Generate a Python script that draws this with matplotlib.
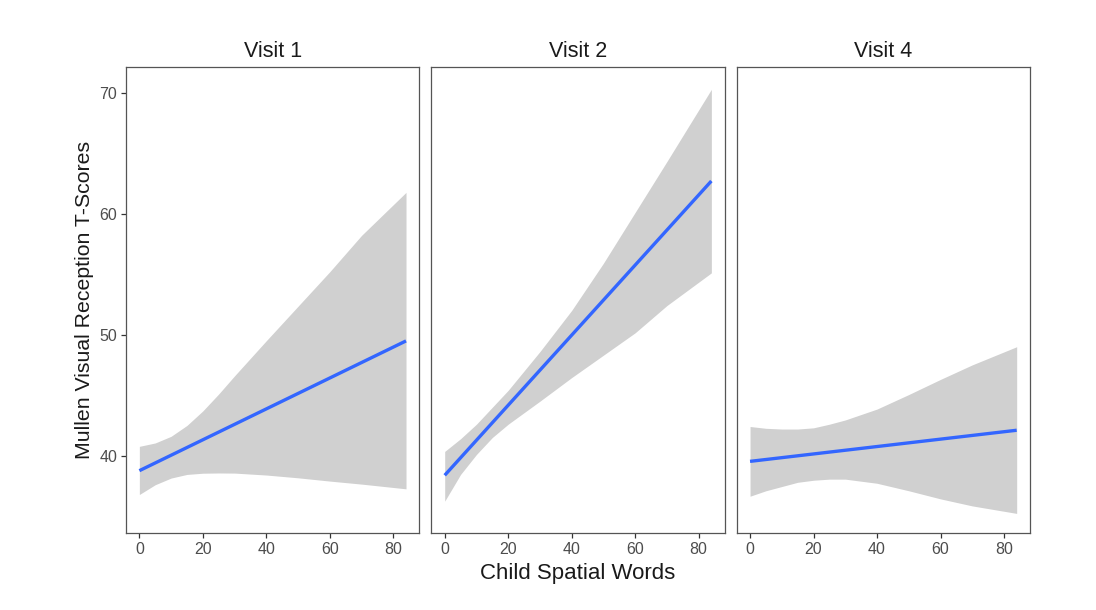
import numpy as np
import matplotlib
matplotlib.use('Agg')
import matplotlib.pyplot as plt

plt.rcParams['font.family'] = ['Liberation Sans', 'DejaVu Sans']

visits = ['Visit 1', 'Visit 2', 'Visit 4']
x_pts = [0, 5, 10, 15, 20, 25, 30, 40, 50, 60, 70, 84]

# fitted line end points (x=0, x=84)
fit_x = [0, 84]
fit_y = {
    'Visit 1': [38.76, 49.48],
    'Visit 2': [38.38, 62.69],
    'Visit 4': [39.53, 42.10],
}
# confidence band at x_pts
upper = {
    'Visit 1': [40.77, 41.05, 41.6, 42.5, 43.7, 45.1, 46.6, 49.5, 52.35, 55.2, 58.2, 61.75],
    'Visit 2': [40.35, 41.4, 42.6, 44.0, 45.4, 47.0, 48.6, 52.0, 55.9, 60.1, 64.3, 70.26],
    'Visit 4': [42.41, 42.26, 42.2, 42.2, 42.3, 42.6, 42.95, 43.85, 45.05, 46.3, 47.5, 49.0],
}
lower = {
    'Visit 1': [36.79, 37.6, 38.15, 38.45, 38.55, 38.57, 38.56, 38.4, 38.17, 37.9, 37.65, 37.26],
    'Visit 2': [36.24, 38.45, 40.1, 41.5, 42.6, 43.55, 44.5, 46.45, 48.3, 50.15, 52.4, 55.1],
    'Visit 4': [36.65, 37.1, 37.45, 37.8, 37.97, 38.06, 38.06, 37.72, 37.1, 36.43, 35.85, 35.23],
}
y_ticks = [40, 50, 60, 70]
x_ticks = [0, 20, 40, 60, 80]

fig, axes = plt.subplots(1, 3, figsize=(10.96, 6.10), dpi=100, sharey=True)
plt.subplots_adjust(left=0.115, right=0.9398, top=0.890, bottom=0.126, wspace=0.041)

for ax, v in zip(axes, visits):
    ax.fill_between(x_pts, lower[v], upper[v], color='#d0d0d0', linewidth=0)
    ax.plot(fit_x, fit_y[v], color='#3366FF', linewidth=2.4, solid_capstyle='butt')
    ax.set_xlim(-4.2, 88.2)
    ax.set_ylim(33.6, 72.1)
    ax.set_xticks(x_ticks)
    ax.set_yticks(y_ticks)
    ax.set_title(v, fontsize=15.5, pad=7, color='#1a1a1a')
    for s in ax.spines.values():
        s.set_color('#555555')
        s.set_linewidth(0.9)
    ax.tick_params(axis='both', direction='out', length=3.5, width=0.9,
                   color='#333333', labelcolor='#4d4d4d', labelsize=11.5, pad=3)

axes[0].set_ylabel('Mullen Visual Reception T-Scores', fontsize=15.3, color='#1a1a1a')
for ax in axes[1:]:
    ax.tick_params(axis='y', left=False, labelleft=False)
fig.text(0.527, 0.05, 'Child Spatial Words', ha='center', fontsize=16, color='#1a1a1a')

plt.savefig('out.png', dpi=100)
